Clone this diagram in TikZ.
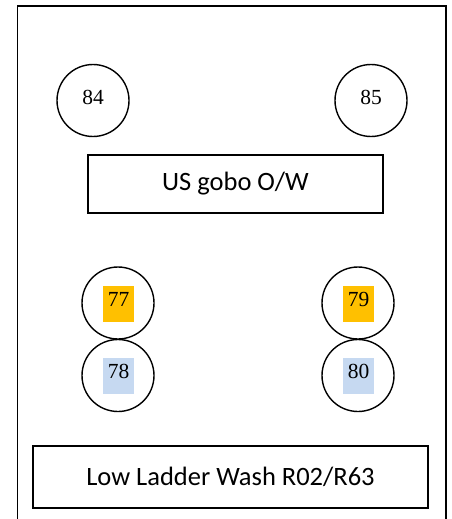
\documentclass[tikz,border=0pt]{standalone}
\usepackage{fontspec}
\setmainfont{Liberation Serif}
\newfontfamily\labelfont{Carlito}
\definecolor{hlorange}{HTML}{FFC000}
\definecolor{hlblue}{HTML}{C6D9F1}
\begin{document}
\begin{tikzpicture}[x=1pt,y=-1pt,
  lamp/.style={draw,circle,line width=1.4pt,minimum size=72pt,inner sep=0pt},
  num/.style={font=\fontsize{21.5}{24}\selectfont,inner sep=0pt},
  hlbox/.style={minimum width=31pt,minimum height=36pt,inner sep=0pt},
  labelbox/.style={draw,line width=1.4pt,inner sep=0pt,font=\labelfont\fontsize{26.5}{30}\selectfont}]
\useasboundingbox (0,0) rectangle (452,519);
\clip (0,0) rectangle (452,519);
\draw[line width=1.8pt] (17.5,540) -- (17.5,6) -- (446,6) -- (446,540);
% top circles
\node[lamp] (c84) at (93,100.5) {};
\node[num] (t84) at ([yshift=3.5pt]c84.center) {84};
\node[lamp] (c85) at (371,100.5) {};
\node[num] (t85) at ([yshift=3.5pt]c85.center) {85};
% gobo box
\node[labelbox,minimum width=295pt,minimum height=58pt] (gobo) at (235.5,184) {US gobo O/W};
% lower circles
\node[lamp] (c77) at (118,303) {};
\node[hlbox,fill=hlorange] (h77) at (118.5,304) {};
\node[num] (t77) at ([yshift=4.5pt]h77.center) {77};
\node[lamp] (c78) at (118,375.5) {};
\node[hlbox,fill=hlblue] (h78) at (118.5,376) {};
\node[num] (t78) at ([yshift=5pt]h78.center) {78};
\node[lamp] (c79) at (358,303) {};
\node[hlbox,fill=hlorange] (h79) at (358.5,304) {};
\node[num] (t79) at ([yshift=4.5pt]h79.center) {79};
\node[lamp] (c80) at (358,375.5) {};
\node[hlbox,fill=hlblue] (h80) at (358.5,376) {};
\node[num] (t80) at ([yshift=5pt]h80.center) {80};
% ladder box
\node[labelbox,minimum width=395pt,minimum height=62pt] (ladder) at (230.5,477) {Low Ladder Wash R02/R63};
\end{tikzpicture}
\end{document}
